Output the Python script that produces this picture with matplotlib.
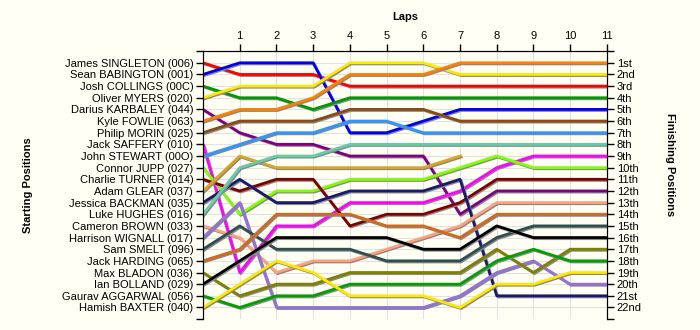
import matplotlib.pyplot as plt
import matplotlib.patheffects as pe

# grid order, top to bottom
drivers = [
    'James SINGLETON (006)', 'Sean BABINGTON (001)', 'Josh COLLINGS (00C)',
    'Oliver MYERS (020)', 'Darius KARBALEY (044)', 'Kyle FOWLIE (063)',
    'Philip MORIN (025)', 'Jack SAFFERY (010)', 'John STEWART (00O)',
    'Connor JUPP (027)', 'Charlie TURNER (014)', 'Adam GLEAR (037)',
    'Jessica BACKMAN (035)', 'Luke HUGHES (016)', 'Cameron BROWN (033)',
    'Harrison WIGNALL (017)', 'Sam SMELT (096)', 'Jack HARDING (065)',
    'Max BLADON (036)', 'Ian BOLLAND (029)', 'Gaurav AGGARWAL (056)',
    'Hamish BAXTER (040)',
]

# position of each driver at the end of laps 0..11
positions = [
    [1, 2, 2, 2, 3, 3, 3, 3, 3, 3, 3, 3],
    [2, 1, 1, 1, 7, 7, 6, 5, 5, 5, 5, 5],
    [3, 4, 4, 5, 4, 4, 4, 4, 4, 4, 4, 4],
    [4, 3, 3, 3, 1, 1, 1, 2, 2, 2, 2, 2],
    [5, 7, 8, 8, 9, 9, 9, 14, 12, 12, 12, 12],
    [6, 5, 5, 4, 2, 2, 2, 1, 1, 1, 1, 1],
    [7, 6, 6, 6, 5, 5, 5, 6, 6, 6, 6, 6],
    [8, 19, 15, 15, 13, 13, 13, 12, 10, 9, 9, 9],
    [9, 8, 7, 7, 6, 6, 7, 7, 7, 7, 7, 7],
    [10, 14, 12, 12, 11, 11, 11, 10, 9, 10, 10, 10],
    [11, 12, 11, 11, 15, 14, 14, 13, 11, 11, 11, 11],
    [12, 9, 10, 10, 10, 10, 10, 9],
    [13, 11, 13, 13, 12, 12, 12, 11, 21, 21, 21, 21],
    [14, 10, 9, 9, 8, 8, 8, 8, 8, 8, 8, 8],
    [15, 16, 19, 18, 18, 17, 16, 15, 13, 13, 13, 13],
    [16, 13, 22, 22, 22, 22, 22, 21, 19, 18, 20, 20],
    [17, 15, 17, 17, 17, 18, 18, 18, 16, 15, 15, 15],
    [18, 17, 14, 14, 14, 15, 15, 16, 14, 14, 14, 14],
    [19, 21, 20, 20, 19, 19, 19, 19, 17, 19, 17, 17],
    [20, 18, 16, 16, 16, 16, 17, 17, 15, 16, 16, 16],
    [21, 22, 21, 21, 20, 20, 20, 20, 18, 17, 18, 18],
    [22, 20, 18, 19, 21, 21, 21, 22, 20, 20, 19, 19],
]

finish_labels = ['1st', '2nd', '3rd', '4th', '5th', '6th', '7th', '8th', '9th',
                 '10th', '11th', '12th', '13th', '14th', '15th', '16th', '17th',
                 '18th', '19th', '20th', '21st', '22nd']

laps = list(range(12))

colors = [
    '#ff0000', '#0000ee', '#009a00', '#ffe800', '#800080', '#ff8000',
    '#8b4a13', '#ff00ff', '#2e96ff', '#80ff00', '#800000', '#daa520',
    '#191970', '#66cdaa', '#ffa07a', '#9370db', '#2f4f4f', '#d2691e',
    '#808000', '#000000', '#00a000', '#ffe800',
]

bg = '#fffff4'
plt.rcParams['font.family'] = 'Liberation Sans'
plt.rcParams['font.size'] = 8

fig = plt.figure(figsize=(7, 3.3), dpi=100, facecolor=bg)
ax = fig.add_axes([0.29, 0.033, 0.577, 0.812])
ax.set_facecolor(bg)

shadow = [pe.SimpleLineShadow(offset=(0.8, -0.8), shadow_color='#888888', alpha=1.0),
          pe.Normal()]
for pos, c in zip(positions, colors):
    ax.plot(laps[:len(pos)], pos, color=c, lw=2.0, path_effects=shadow, zorder=3)

ax.set_xlim(0, 11)
ax.set_ylim(23, 0)
ax.xaxis.tick_top()
ax.set_xticks(laps[1:])
ax.set_yticks(range(1, 23))
ax.set_yticklabels(drivers)
ax.set_yticks([0, 23], minor=True)
ax.tick_params(axis='both', which='both', length=5, width=1, colors='black',
               labelsize=8, pad=2)
ax.grid(which='both', color='#e2e2e2', lw=0.8)
ax.set_axisbelow(True)
ax.spines['bottom'].set_visible(False)

ax2 = ax.twinx()
ax2.set_ylim(23, 0)
ax2.set_yticks(range(1, 23))
ax2.set_yticklabels(finish_labels)
ax2.set_yticks([0, 23], minor=True)
ax2.tick_params(axis='y', which='both', length=5, width=1, labelsize=8, pad=2)
ax2.spines['bottom'].set_visible(False)

fig.text(405 / 700, 1 - 17 / 330, 'Laps', ha='center', va='center',
         fontweight='bold', fontsize=8)
fig.text(28 / 700, 0.44, 'Starting Positions', ha='center', va='center',
         rotation=90, fontweight='bold', fontsize=8)
fig.text(670 / 700, 0.5, 'Finishing Positions', ha='center', va='center',
         rotation=270, fontweight='bold', fontsize=8)

fig.savefig('out.png', dpi=100, facecolor=bg)
